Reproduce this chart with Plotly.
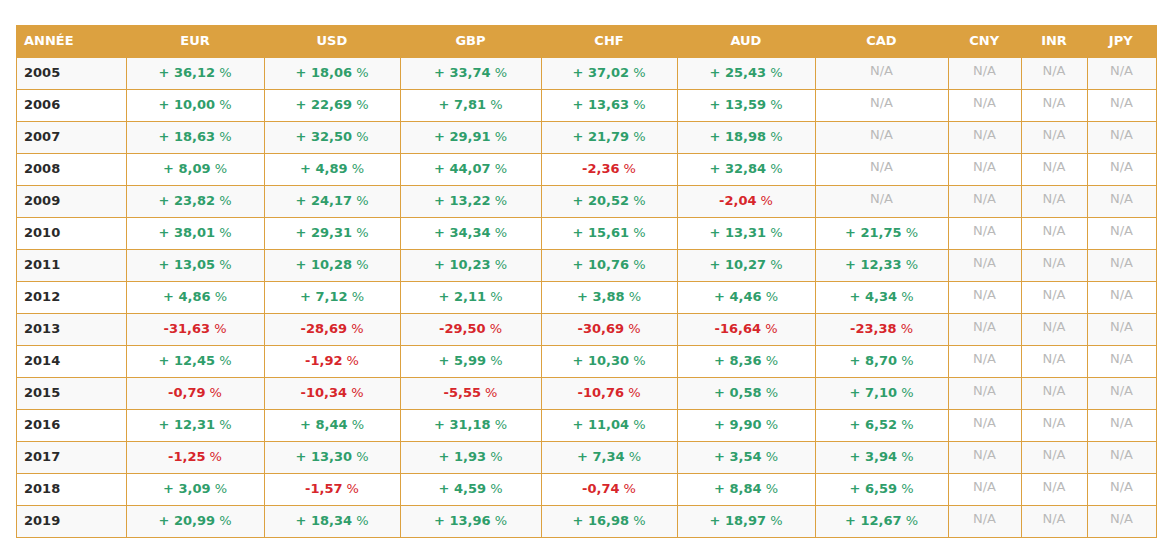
import plotly.graph_objects as go

years = list(range(2005, 2020))
currencies = ["EUR", "USD", "GBP", "CHF", "AUD", "CAD", "CNY", "INR", "JPY"]
eur = [36.12, 10.00, 18.63, 8.09, 23.82, 38.01, 13.05, 4.86, -31.63, 12.45, -0.79, 12.31, -1.25, 3.09, 20.99]
usd = [18.06, 22.69, 32.50, 4.89, 24.17, 29.31, 10.28, 7.12, -28.69, -1.92, -10.34, 8.44, 13.30, -1.57, 18.34]
gbp = [33.74, 7.81, 29.91, 44.07, 13.22, 34.34, 10.23, 2.11, -29.50, 5.99, -5.55, 31.18, 1.93, 4.59, 13.96]
chf = [37.02, 13.63, 21.79, -2.36, 20.52, 15.61, 10.76, 3.88, -30.69, 10.30, -10.76, 11.04, 7.34, -0.74, 16.98]
aud = [25.43, 13.59, 18.98, 32.84, -2.04, 13.31, 10.27, 4.46, -16.64, 8.36, 0.58, 9.90, 3.54, 8.84, 18.97]
cad = [None, None, None, None, None, 21.75, 12.33, 4.34, -23.38, 8.70, 7.10, 6.52, 3.94, 6.59, 12.67]
cny = [None] * 15
inr = [None] * 15
jpy = [None] * 15
series = [eur, usd, gbp, chf, aud, cad, cny, inr, jpy]

GREEN = "#2f9e6b"
RED = "#d7262b"
GREY = "#b9b9b9"
ORANGE = "#dca140"
FONT = "DejaVu Sans, sans-serif"


def fmt(v):
    if v is None:
        return "N/A"
    s = f"{abs(v):.2f}".replace(".", ",")
    return f"<b>+ {s}</b> %" if v >= 0 else f"<b>-{s}</b> %"


def col(v):
    if v is None:
        return GREY
    return GREEN if v >= 0 else RED


values = [[f"<b>{y}</b>" for y in years]] + [[fmt(v) for v in s] for s in series]
colors = [["#2a2a2a"] * 15] + [[col(v) for v in s] for s in series]
fills = [["#f9f9f9" if i % 2 == 0 else "#ffffff" for i in range(15)]] * 10

fig = go.Figure(go.Table(
    columnwidth=[110, 138, 136, 141, 136, 138, 133, 73, 66, 69],
    header=dict(
        values=["<b>ANNÉE</b>"] + [f"<b>{c}</b>" for c in currencies],
        fill_color=ORANGE,
        line_color=ORANGE,
        align=["left"] + ["center"] * 9,
        font=dict(family=FONT, size=13, color="white"),
        height=32,
    ),
    cells=dict(
        values=values,
        fill_color=fills,
        line_color=ORANGE,
        align=["left"] + ["center"] * 9,
        font=dict(family=FONT, size=13, color=colors),
        height=32,
    ),
))
fig.update_layout(
    width=1167, height=548,
    margin=dict(l=8, r=19, t=17, b=2),
    paper_bgcolor="white",
)
fig.write_html("out.html")
